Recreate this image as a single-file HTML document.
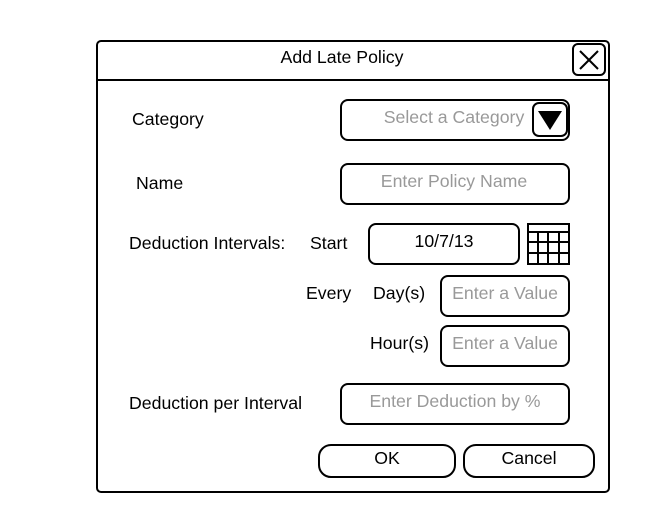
<!DOCTYPE html>
<html><head><meta charset="utf-8"><style>
html,body{margin:0;padding:0;background:#fff;}
svg{display:block;}
text{font-family:"Liberation Sans",sans-serif;font-size:17.7px;fill:#000;}
.g{fill:#999;}
</style></head><body>
<svg width="649" height="532" viewBox="0 0 649 532" xmlns="http://www.w3.org/2000/svg">
<g fill="none" stroke="#000" stroke-width="2">
<rect x="97" y="41" width="512" height="451" rx="4"/>
<line x1="97" y1="80" x2="609" y2="80"/>
<rect x="573" y="44" width="32" height="31" rx="5"/>
<line x1="580" y1="51" x2="598" y2="69"/>
<line x1="598" y1="51" x2="580" y2="69"/>
<rect x="341" y="100" width="228" height="40" rx="7"/>
<rect x="533" y="103" width="34" height="33" rx="6"/>
<rect x="341" y="164" width="228" height="40" rx="7"/>
<rect x="369" y="224" width="150" height="40" rx="7"/>
<rect x="441" y="276" width="128" height="40" rx="7"/>
<rect x="441" y="326" width="128" height="40" rx="7"/>
<rect x="341" y="384" width="228" height="40" rx="7"/>
<rect x="319" y="445" width="136" height="32" rx="12"/>
<rect x="464" y="445" width="130" height="32" rx="12"/>
<rect x="528" y="224" width="41" height="40"/>
<line x1="528" y1="232" x2="569" y2="232"/>
<line x1="528" y1="242" x2="569" y2="242"/>
<line x1="528" y1="253" x2="569" y2="253"/>
<line x1="538" y1="232" x2="538" y2="264"/>
<line x1="548" y1="232" x2="548" y2="264"/>
<line x1="559" y1="232" x2="559" y2="264"/>
</g>
<polygon points="538,111 562,111 550,130" fill="#000"/>
<text x="342" y="63" text-anchor="middle">Add Late Policy</text>
<text x="132" y="125">Category</text>
<text x="454" y="123" text-anchor="middle" class="g">Select a Category</text>
<text x="136" y="189">Name</text>
<text x="454" y="187" text-anchor="middle" class="g">Enter Policy Name</text>
<text x="129" y="249">Deduction Intervals:</text>
<text x="310" y="249">Start</text>
<text x="444" y="247" text-anchor="middle">10/7/13</text>
<text x="306" y="299">Every</text>
<text x="373" y="299">Day(s)</text>
<text x="505" y="299" text-anchor="middle" class="g">Enter a Value</text>
<text x="370" y="349">Hour(s)</text>
<text x="505" y="349" text-anchor="middle" class="g">Enter a Value</text>
<text x="129" y="409">Deduction per Interval</text>
<text x="455" y="407" text-anchor="middle" class="g">Enter Deduction by %</text>
<text x="387" y="464" text-anchor="middle">OK</text>
<text x="529" y="464" text-anchor="middle">Cancel</text>
</svg>
</body></html>
